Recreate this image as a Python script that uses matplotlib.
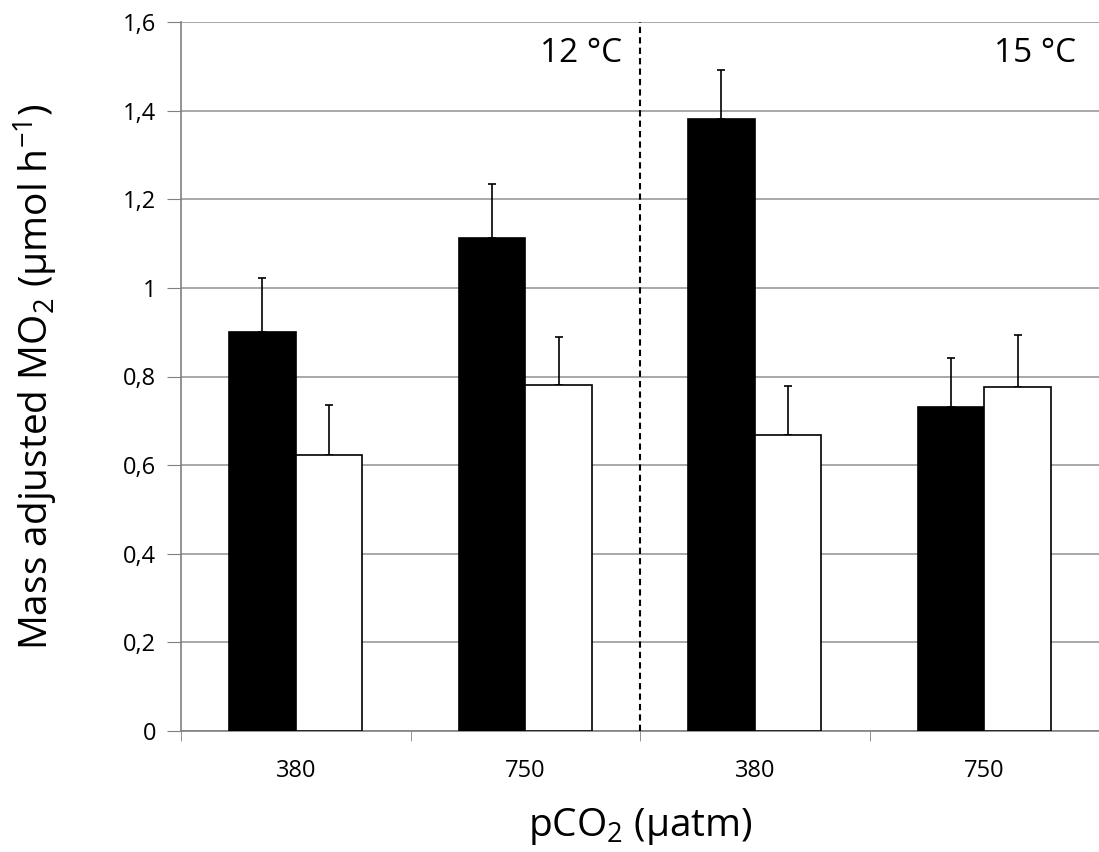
import numpy as np
import matplotlib
matplotlib.use("Agg")
import matplotlib.pyplot as plt

# ---------- DATA ----------
pco2_labels = ["380", "750", "380", "750"]
temp_labels = ["12 \u00b0C", "15 \u00b0C"]
mo2_black = [0.90, 1.113, 1.381, 0.731]
err_black = [0.123, 0.122, 0.111, 0.111]
mo2_white = [0.623, 0.781, 0.668, 0.777]
err_white = [0.113, 0.108, 0.111, 0.117]
yticks = [0, 0.2, 0.4, 0.6, 0.8, 1.0, 1.2, 1.4, 1.6]
ytick_labels = ["0", "0,2", "0,4", "0,6", "0,8", "1", "1,2", "1,4", "1,6"]

plt.rcParams["font.family"] = ["Open Sans", "DejaVu Sans"]
plt.rcParams["mathtext.default"] = "regular"

fig = plt.figure(figsize=(10.99, 8.52), dpi=100)
ax = fig.add_axes([181 / 1099, 1 - 731 / 852, (1099 - 181) / 1099, (731 - 22) / 852])

x = np.arange(len(pco2_labels))
w = 0.29
ax.bar(x - w / 2, mo2_black, w, color="black", edgecolor="black", linewidth=1.2, zorder=3)
ax.bar(x + w / 2, mo2_white, w, color="white", edgecolor="black", linewidth=1.2, zorder=3)
ax.errorbar(x - w / 2, mo2_black, yerr=[np.zeros(4), err_black], fmt="none",
            ecolor="black", elinewidth=1.2, capsize=3, capthick=1.2, zorder=2)
ax.errorbar(x + w / 2, mo2_white, yerr=[np.zeros(4), err_white], fmt="none",
            ecolor="black", elinewidth=1.2, capsize=3, capthick=1.2, zorder=2)

# divider between temperatures
ax.axvline(1.5, color="black", linestyle=(0, (3, 2)), linewidth=1.5, zorder=4)

ax.set_xlim(-0.5, -0.5 + (1099 - 181) / 231)
ax.set_ylim(0, 1.6)
ax.set_yticks(yticks)
ax.set_yticklabels(ytick_labels, fontsize=17)
ax.set_xticks(x)
ax.set_xticklabels(pco2_labels, fontsize=17)
ax.set_xticks(np.arange(-0.5, 4, 1), minor=True)
ax.tick_params(axis="x", which="major", length=0, pad=20)
ax.tick_params(axis="x", which="minor", length=7, color="#808080")
ax.tick_params(axis="y", length=10, color="#808080", pad=8)

ax.yaxis.grid(True, color="#9a9a9a", linewidth=1.2, zorder=0)
ax.set_axisbelow(True)
for s in ["top", "right"]:
    ax.spines[s].set_visible(False)
for s in ["left", "bottom"]:
    ax.spines[s].set_color("#808080")
    ax.spines[s].set_linewidth(1.2)

ax.text(1.42, 1.53, temp_labels[0], ha="right", va="center", fontsize=24)
ax.text(3.4, 1.53, temp_labels[1], ha="right", va="center", fontsize=24)

ax.set_ylabel("Mass adjusted MO$_2$ ($\\mu$mol h$^{-1}$)", fontsize=28)
ax.yaxis.set_label_coords(-(181 - 12) / (1099 - 181), 0.5)
ax.yaxis.label.set_va("top")
ax.set_xlabel("pCO$_2$ ($\\mu$atm)", fontsize=28)
ax.xaxis.set_label_coords((640 - 181) / (1099 - 181), -0.106)

fig.savefig("out.png", dpi=100)
